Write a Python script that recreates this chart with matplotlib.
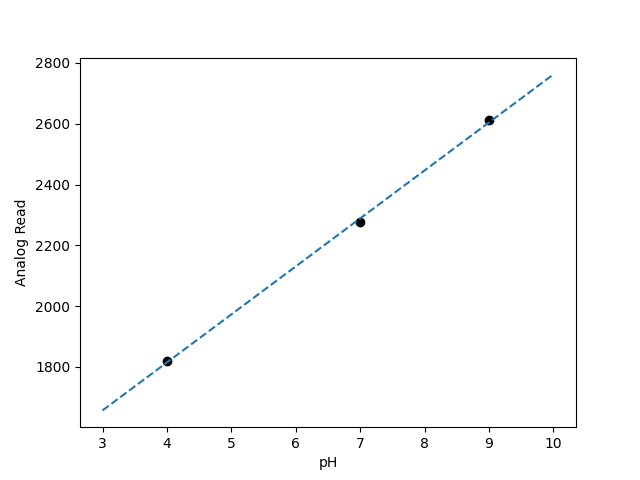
import numpy as np
import matplotlib
matplotlib.use('Agg')
import matplotlib.pyplot as plt

ph = [4, 7, 9]
analog = [1820, 2276, 2612]

fit_range = [3, 10]

coef = np.polyfit(ph, analog, 1)
fit_x = np.array(fit_range)
fit_y = np.polyval(coef, fit_x)

fig, ax = plt.subplots(figsize=(6.4, 4.8), dpi=100)
ax.scatter(ph, analog, color='black')
ax.plot(fit_x, fit_y, '--')
ax.set_xlabel('pH')
ax.set_ylabel('Analog Read')
fig.savefig('out.png')
